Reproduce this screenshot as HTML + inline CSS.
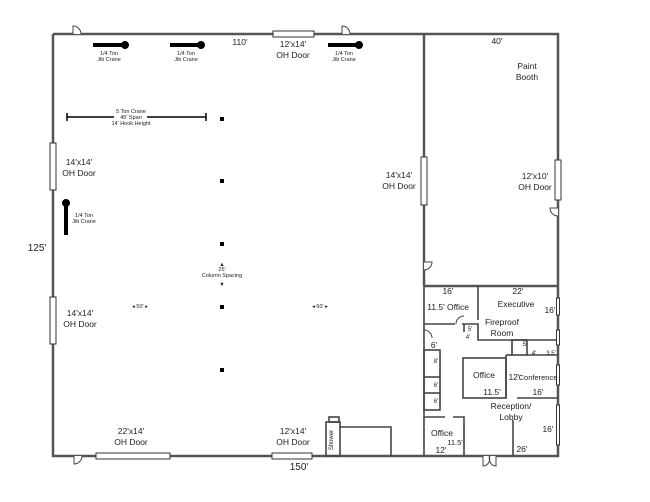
<!DOCTYPE html>
<html><head><meta charset="utf-8"><style>
html,body{margin:0;padding:0;background:#fff;}
svg{display:block;}
text{font-family:"Liberation Sans",sans-serif;fill:#222;}
</style></head><body>
<svg width="650" height="502" viewBox="0 0 650 502" xmlns="http://www.w3.org/2000/svg">
<g stroke="#555" stroke-width="2.5" fill="none">
<polyline points="53,34 558,34 558,456 413,456"/>
<polyline points="53,34 53,456 413,456"/>
<line x1="424" y1="34" x2="424" y2="286"/>
<line x1="424" y1="286" x2="558" y2="286"/>
</g>
<g stroke="#444" stroke-width="1.6" fill="none">
<line x1="424" y1="286" x2="424" y2="456"/>
<line x1="478" y1="286" x2="478" y2="320"/>
<polyline points="424,324 455,324"/>
<polyline points="462,324 478,324 478,334 478,340 558,340"/>
<line x1="464" y1="324" x2="464" y2="332"/>
<rect x="512" y="340" width="15" height="15"/>
<line x1="527" y1="355" x2="558" y2="355"/>
<line x1="506" y1="355" x2="512" y2="355"/>
<rect x="463" y="358" width="43" height="40"/>
<line x1="506" y1="355" x2="506" y2="398"/>
<line x1="517" y1="398" x2="558" y2="398"/>
<rect x="424" y="350" width="16" height="60"/>
<line x1="424" y1="377" x2="440" y2="377"/>
<line x1="424" y1="393" x2="440" y2="393"/>
<polyline points="424,417 445,417"/>
<polyline points="453,417 464,417 464,456"/>
<line x1="513" y1="420" x2="513" y2="456"/>
<rect x="326" y="422" width="14" height="34"/>
<polyline points="340,427 391,427 391,456"/>
<rect x="329" y="417" width="10" height="5"/>
</g>
<g stroke="#444" stroke-width="1" fill="#fff">
<path d="M73,34 V26 A8,8 0 0 1 81,34"/>
<path d="M342,34 V26 A8,8 0 0 1 350,34"/>
<path d="M424,262 H432 A8,8 0 0 1 424,270"/>
<path d="M558,208 H550 A8,8 0 0 0 558,216"/>
<path d="M74,456 V464 A8,8 0 0 0 82,456"/>
<path d="M483,456 V466 A7,7 0 0 0 489,456 M496,456 V466 A7,7 0 0 1 490,456"/>
<path d="M456,324 A8,8 0 0 1 464,316" fill="none"/>
<path d="M424,330 A8,8 0 0 1 432,338" fill="none"/>
</g>
<g stroke="#333" stroke-width="1" fill="#fff">
<rect x="273" y="31" width="41" height="6"/>
<rect x="50" y="143" width="6" height="47"/>
<rect x="50" y="297" width="6" height="47"/>
<rect x="96" y="453" width="74" height="6"/>
<rect x="272" y="453" width="40" height="6"/>
<rect x="421" y="157" width="6" height="48"/>
<rect x="555" y="160" width="6" height="40"/>
<rect x="556.5" y="298" width="3" height="17"/>
<rect x="556.5" y="330" width="3" height="15"/>
<rect x="556.5" y="365" width="3" height="20"/>
<rect x="556.5" y="405" width="3" height="40"/>
</g>
<g stroke="#000" stroke-width="4">
<line x1="93" y1="45" x2="125" y2="45"/>
<line x1="170" y1="45" x2="200" y2="45"/>
<line x1="328" y1="45" x2="358" y2="45"/>
<line x1="66" y1="203" x2="66" y2="235"/>
</g>
<g fill="#000">
<circle cx="125" cy="45" r="4"/><circle cx="201" cy="45" r="4"/><circle cx="359" cy="45" r="4"/><circle cx="66" cy="203" r="4"/>
<rect x="220" y="117" width="4" height="4"/><rect x="220" y="179" width="4" height="4"/><rect x="220" y="242" width="4" height="4"/><rect x="220" y="305" width="4" height="4"/><rect x="220" y="368" width="4" height="4"/>
</g>
<g stroke="#000" stroke-width="1.5">
<line x1="67" y1="117" x2="114" y2="117"/><line x1="147" y1="117" x2="206" y2="117"/>
<line x1="67" y1="113" x2="67" y2="121"/><line x1="206" y1="113" x2="206" y2="121"/>
</g>
<g font-size="5.5" text-anchor="middle">
<text x="109" y="55">1/4 Ton</text><text x="109" y="61">Jib Crane</text>
<text x="186" y="55">1/4 Ton</text><text x="186" y="61">Jib Crane</text>
<text x="344" y="55">1/4 Ton</text><text x="344" y="61">Jib Crane</text>
<text x="84" y="217">1/4 Ton</text><text x="84" y="223">Jib Crane</text>
<text x="131" y="113">5 Ton Crane</text><text x="131" y="119">45' Span</text><text x="131" y="125">14' Hook Height</text>
<text x="222" y="271">25'</text><text x="222" y="277">Column Spacing</text>
<text x="140" y="308">◂ 50' ▸</text><text x="320" y="308">◂ 60' ▸</text>
<text x="222" y="266">▲</text><text x="222" y="286">▼</text>
</g>
<g font-size="8.5" text-anchor="middle">
<text x="240" y="45">110'</text>
<text x="293" y="47">12'x14'</text><text x="293" y="58">OH Door</text>
<text x="497" y="44">40'</text>
<text x="527" y="69">Paint</text><text x="527" y="80">Booth</text>
<text x="79" y="165">14'x14'</text><text x="79" y="176">OH Door</text>
<text x="80" y="316">14'x14'</text><text x="80" y="327">OH Door</text>
<text x="37" y="251" font-size="10">125'</text>
<text x="399" y="178">14'x14'</text><text x="399" y="189">OH Door</text>
<text x="535" y="179">12'x10'</text><text x="535" y="190">OH Door</text>
<text x="131" y="434">22'x14'</text><text x="131" y="445">OH Door</text>
<text x="293" y="434">12'x14'</text><text x="293" y="445">OH Door</text>
<text x="299" y="470" font-size="10">150'</text>
<text x="448" y="294">16'</text>
<text x="518" y="294">22'</text>
<text x="436" y="310">11.5'</text><text x="458" y="310">Office</text>
<text x="516" y="307">Executive</text>
<text x="550" y="313">16'</text>
<text x="502" y="325">Fireproof</text><text x="502" y="336">Room</text>
<text x="434" y="348">6'</text>
<text x="484" y="378">Office</text>
<text x="492" y="395">11.5'</text>
<text x="514" y="380">12'</text><text x="538" y="380" font-size="7.5">Conference</text>
<text x="538" y="395">16'</text>
<text x="511" y="409">Reception/</text><text x="511" y="420">Lobby</text>
<text x="548" y="432">16'</text>
<text x="442" y="436">Office</text>
<text x="455" y="445" font-size="7.5">11.5'</text>
<text x="441" y="453">12'</text>
<text x="522" y="452">26'</text>
</g>
<g font-size="6" text-anchor="middle">
<text x="470" y="331">5'</text><text x="468" y="339">4'</text>
<text x="525" y="346">5'</text><text x="534" y="355">4'</text><text x="551" y="355">3.5'</text>
<text x="436" y="363">8'</text><text x="436" y="387">6'</text><text x="436" y="403">6'</text>
<text x="333" y="440" transform="rotate(-90 333 440)">Shower</text>
</g>
</svg>
</body></html>
